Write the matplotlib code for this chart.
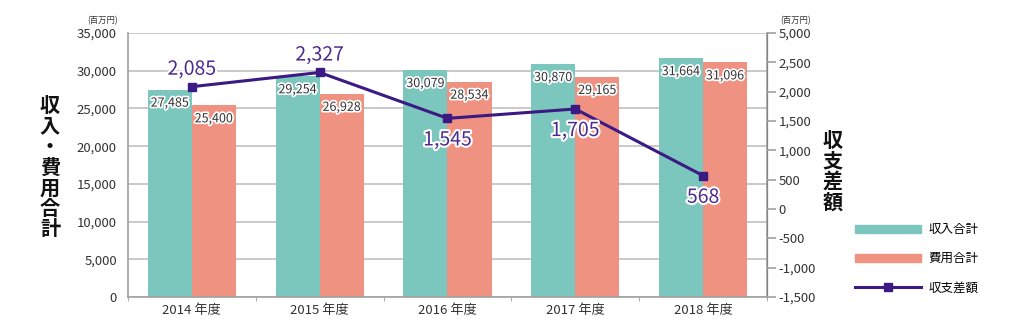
import matplotlib
matplotlib.use("Agg")
import matplotlib.pyplot as plt
import matplotlib.patheffects as pe
from matplotlib.patches import Patch
from matplotlib.lines import Line2D
import numpy as np

plt.rcParams['font.family'] = ['Noto Sans CJK JP', 'DejaVu Sans']

years = ["2014 年度", "2015 年度", "2016 年度", "2017 年度", "2018 年度"]
revenue = [27485, 29254, 30079, 30870, 31664]
expense = [25400, 26928, 28534, 29165, 31096]
balance = [2085, 2327, 1545, 1705, 568]
left_ticks = [0, 5000, 10000, 15000, 20000, 25000, 30000, 35000]
right_ticks = [-1500, -1000, -500, 0, 500, 1000, 1500, 2000, 2500, 3000]
right_labels = ["-1,500", "-1,000", "-500", "0", "500", "1,000", "1,500", "2,000", "2,500", "5,000"]
# balance label above (+) or below (-) the point
balance_side = [1, 1, -1, -1, -1]

teal = "#7cc7bd"
salmon = "#f09282"
purple = "#3c1a84"
gray = "#a0a0a0"

fig = plt.figure(figsize=(10.2, 3.31), dpi=100)
ax = fig.add_axes([128 / 1020, 34 / 331, 639 / 1020, 264 / 331])
ax2 = ax.twinx()

x = np.arange(len(years))
w = 0.345
ax.bar(x - w / 2, revenue, w, color=teal, zorder=2)
ax.bar(x + w / 2, expense, w, color=salmon, zorder=2)

stroke = [pe.withStroke(linewidth=2.5, foreground="white")]
for i in range(len(years)):
    ax.annotate(f"{revenue[i]:,}", (x[i] - w / 2, revenue[i]), xytext=(0, -5),
                textcoords="offset points", ha="center", va="top", fontsize=9,
                color="#333333", path_effects=stroke, zorder=3)
    ax.annotate(f"{expense[i]:,}", (x[i] + w / 2, expense[i]), xytext=(0, -5),
                textcoords="offset points", ha="center", va="top", fontsize=9,
                color="#333333", path_effects=stroke, zorder=3)

ax.set_xlim(-0.5, len(years) - 0.5)
ax.set_ylim(0, 35000)
ax.set_yticks(left_ticks)
ax.set_yticklabels([f"{v:,}" for v in left_ticks], fontsize=9.5, color="#333333")
ax.yaxis.grid(True, color="#c0c0c0", linewidth=1.2, zorder=0)
ax.set_axisbelow(True)
ax.tick_params(axis="y", length=0, pad=8)
ax.set_xticks(x)
ax.set_xticklabels(years, fontsize=9.5, color="#333333")
ax.set_xticks(np.arange(len(years) + 1) - 0.5, minor=True)
ax.tick_params(axis="x", which="major", length=0, pad=5)
ax.tick_params(axis="x", which="minor", length=3, color=gray)

for s in ["top"]:
    ax.spines[s].set_visible(False)
    ax2.spines[s].set_visible(False)
for s in ["left", "bottom"]:
    ax.spines[s].set_color(gray)
    ax.spines[s].set_linewidth(1.2)
ax2.spines["right"].set_color(gray)
ax2.spines["right"].set_linewidth(1.2)
ax2.spines["left"].set_visible(False)
ax2.spines["bottom"].set_visible(False)

ax2.plot(x, balance, color=purple, linewidth=2.2, marker="s", markersize=5.5, zorder=4)
ax2.set_ylim(-1500, 3000)
ax2.set_yticks(right_ticks)
ax2.set_yticklabels(right_labels, fontsize=9.5, color="#333333")
ax2.tick_params(axis="y", length=6.5, width=1.2, color=gray, pad=2)

bstroke = [pe.withStroke(linewidth=3, foreground="white")]
for i in range(len(years)):
    off = 5 if balance_side[i] > 0 else -8
    ax2.annotate(f"{balance[i]:,}", (x[i], balance[i]), xytext=(0, off),
                 textcoords="offset points", ha="center",
                 va="bottom" if balance_side[i] > 0 else "top",
                 fontsize=14, color="#4b2b8f", path_effects=bstroke, zorder=5)

# vertical axis titles
fig.text(50 / 1020, 1 - 167 / 331, "\n".join("収入・費用合計"), ha="center", va="center",
         fontsize=14.5, fontweight="bold", linespacing=0.98, color="#111111")
fig.text(833 / 1020, 1 - 171 / 331, "\n".join("収支差額"), ha="center", va="center",
         fontsize=14.5, fontweight="bold", linespacing=0.98, color="#111111")

# units
fig.text(103 / 1020, 1 - 21 / 331, "(百万円)", ha="center", va="center", fontsize=6, color="#333333")
fig.text(796 / 1020, 1 - 21 / 331, "(百万円)", ha="center", va="center", fontsize=6, color="#333333")

handles = [Patch(color=teal), Patch(color=salmon),
           Line2D([], [], color=purple, linewidth=2.2, marker="s", markersize=5.5)]
fig.legend(handles, ["収入合計", "費用合計", "収支差額"], loc="upper left",
           bbox_to_anchor=(855 / 1020, 1 - 223 / 331), frameon=False, fontsize=9,
           handlelength=5.3, handleheight=0.6, handletextpad=0.6, labelspacing=1.3,
           borderpad=0, borderaxespad=0)

fig.savefig("out.png", dpi=100)
